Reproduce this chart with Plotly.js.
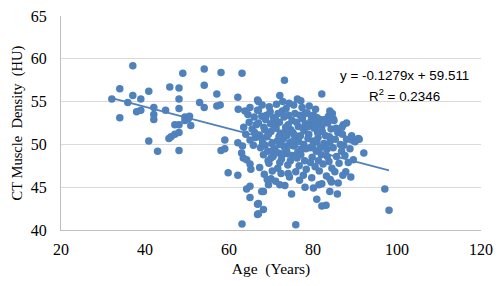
<!DOCTYPE html>
<html>
<head>
<meta charset="utf-8">
<script src="https://cdn.plot.ly/plotly-3.0.1.min.js"></script>
<style>html,body{margin:0;padding:0;background:#fff;}#chart{width:501px;height:286px;}</style>
</head>
<body>
<div id="chart"></div>
<script>
// Age (years)
const ages = [
32.1,34,37.1,34,35.9,37.1,39,38,39,40.9,42.1,42.1,42.1,40.9,43,44.9,45.9,48.1,49,48.1,48.1,47.1,48.1,47.1,46.2,45.7,48.1,48.1,49.5,50.9,49.5,50.3,50.6,
54.1,58.1,63.1,54.1,57.1,62.1,53,54.1,57.1,57.9,62.2,65,66.8,
59,58.1,59,62.1,59.8,62.1,65,63.4,63,64.2,65,65,66.8,66.8,63.1,
73.2,67,72.1,77.1,67,82.1,84,84.8,80.1,78.1,81.7,82.1,88,87.2,90.8,92.1,
97.1,98.1,75.9,74.9,80.9,82.1,83.1,85.8,84,78.1,72.1,68.2,67,68.2,67,87.1,82.1,84.4,
67.8,69.4,70,70,72.1,74.1,89.2,91,
63.5,64,64.5,65,63.2,64.8,65.5,66,65.8,64.2,66.3,65.2,66.5,63.8,66.8,
67,67.2,67.5,67.8,68,68.2,68.5,68.7,69,69.2,69.5,69.8,70,70.2,70.5,67.3,68.4,69.1,67.9,70.7,69.6,70.9,68.9,67.6,70.3,
71,71.2,71.5,71.8,72,72.2,72.5,72.7,73,73.2,73.5,73.8,74,74.2,74.5,71.3,72.8,73.6,71.6,72.4,73.9,74.7,71.1,73.3,74.4,72.1,73.7,
75,75.2,75.5,75.7,76,76.2,76.5,76.7,77,77.2,77.5,77.8,78,78.2,75.4,76.3,77.4,75.9,76.8,77.7,78.4,75.1,77.9,76.6,78.6,
79,79.3,79.5,79.8,80,80.3,80.5,80.8,81,81.2,81.5,81.8,82,82.2,79.1,80.6,79.7,81.4,82.4,80.1,82.6,79.4,81.7,
83,83.3,83.5,83.8,84,84.3,84.5,84.8,85,85.3,85.6,85.9,86.2,86.5,83.2,84.1,85.2,86,83.7,86.8,84.6,
87,87.3,87.6,88,88.4,88.8,89.2,89.6,90,87.8,89,86.9,
68.3,69.4,70.6,71.4,72.6,73.1,74.1,74.9,75.6,76.1,76.9,77.6,78.8,79.6,80.4,81.1,82.8,83.9,69.9,71.9,
73.4,75.3,76.4,77.1,78.3,79.9,81.3,82.9,70.4,72.9,74.6,68.6,71.7,74.3,78.9,80.9,83.4,85.5,66.1,69.3
];
// CT muscle density (HU)
const density = [
55.3,56.5,59.2,53.1,54.9,55.7,55.3,53.8,54.0,56.2,54.3,53.5,52.9,50.4,49.2,54.0,56.7,56.6,58.3,55.3,54.2,52.3,52.3,51.2,50.9,50.7,51.4,49.3,53.2,52.2,52.8,53.0,53.3,
58.8,58.4,58.3,56.9,55.9,55.5,54.9,54.3,54.5,54.6,54.1,54.3,55.2,
50.5,49.3,49.5,50.2,46.7,46.4,47.7,48.4,49.0,44.8,45.1,43.8,43.0,41.8,40.7,
57.5,55.0,55.7,55.1,54.0,55.9,53.9,53.0,53.4,53.6,52.9,52.1,52.5,52.3,50.7,49.0,
44.8,42.3,40.6,44.2,43.6,42.8,42.9,44.2,44.5,45.0,45.3,44.5,43.1,42.4,41.9,46.4,45.4,45.6,
44.5,45.3,46.0,48.4,47.9,46.6,50.5,50.6,
52.0,51.2,53.5,50.5,49.8,52.6,51.8,53.2,49.9,48.2,50.8,47.1,52.3,53.9,54.0,
52.5,51.1,49.6,53.3,50.2,48.8,51.7,52.9,50.9,49.2,47.8,53.8,51.5,50.1,48.6,47.3,46.5,45.9,54.6,52.2,54.4,49.5,53.4,50.8,46.9,
53.0,51.9,50.4,49.0,52.6,51.3,48.3,53.9,50.7,49.7,52.0,51.0,47.6,53.4,50.2,54.7,55.0,54.2,47.2,46.6,48.9,51.7,45.7,45.2,46.2,50.0,49.3,
52.8,51.4,49.8,53.6,50.6,48.4,52.1,47.5,51.0,49.4,53.0,50.0,48.1,52.4,54.6,55.3,54.3,46.8,45.8,46.4,47.1,48.7,51.6,50.3,53.7,
51.2,49.6,52.7,48.5,50.4,51.9,47.4,49.2,53.1,50.8,46.9,52.2,48.8,51.5,54.5,54.1,46.1,45.3,47.7,44.9,50.1,47.9,49.6,
51.0,49.4,52.5,48.0,50.2,51.8,47.2,49.6,52.8,50.6,48.6,51.4,47.8,50.0,46.3,45.9,46.8,45.5,53.3,49.2,53.6,
51.2,49.9,48.7,50.6,47.9,49.5,51.0,48.2,50.3,46.8,46.2,52.0,
52.0,51.2,53.1,52.4,50.8,53.2,52.3,49.9,51.1,52.6,53.4,51.9,50.7,53.3,52.6,51.4,52.9,50.9,52.4,50.9,
51.5,50.4,49.1,48.8,49.5,49.8,48.1,49.8,49.3,48.9,48.1,49.9,53.6,54.8,52.1,50.3,48.6,51.9,51.4,48.1
];
// Linear trendline (Excel fit)
const trendSlope = -0.1279;
const trendIntercept = 59.511;
const trendR2 = 0.2346;

const xMin = Math.min(...ages), xMax = Math.max(...ages);
const trendX = [xMin, xMax];
const trendY = trendX.map(v => trendSlope * v + trendIntercept);

const blue = '#4f81bd';
const data = [
  {x: ages, y: density, type: 'scatter', mode: 'markers',
   marker: {color: blue, size: 7.5, line: {width: 0}}, hoverinfo: 'x+y'},
  {x: trendX, y: trendY, type: 'scatter', mode: 'lines',
   line: {color: blue, width: 1.6}, hoverinfo: 'skip'}
];
const serif = 'Liberation Serif, Times New Roman, serif';
const layout = {
  width: 501, height: 286,
  margin: {l: 61, r: 20, t: 16, b: 56},
  paper_bgcolor: '#fff', plot_bgcolor: '#fff',
  showlegend: false,
  font: {family: serif, size: 15, color: '#000'},
  xaxis: {range: [20, 120], dtick: 20, tick0: 20, showgrid: false, zeroline: false,
          showline: true, linecolor: '#bfbfbf', linewidth: 1, ticks: '', ticklabelstandoff: 5,
          tickfont: {family: serif, size: 16, color: '#000'},
          title: {text: 'Age  (Years)', font: {family: serif, size: 15.5, color: '#000'}, standoff: 5}},
  yaxis: {range: [40, 65], dtick: 5, tick0: 40, showgrid: true, gridcolor: '#d9d9d9', gridwidth: 1,
          zeroline: false, showline: true, linecolor: '#bfbfbf', linewidth: 1, ticks: '', ticklabelstandoff: 10,
          tickfont: {family: serif, size: 16, color: '#000'},
          title: {text: 'CT Muscle  Density  (HU)', font: {family: serif, size: 14.5, color: '#000'}, standoff: 4}},
  annotations: [
    {xref: 'paper', yref: 'paper', x: 0.817, y: 0.724, xanchor: 'center', yanchor: 'middle', showarrow: false,
     text: 'y = ' + trendSlope + 'x + ' + trendIntercept,
     font: {family: 'Liberation Sans, Arial, sans-serif', size: 13.4, color: '#000'}},
    {xref: 'paper', yref: 'paper', x: 0.817, y: 0.628, xanchor: 'center', yanchor: 'middle', showarrow: false,
     text: 'R<sup>2</sup> = ' + trendR2,
     font: {family: 'Liberation Sans, Arial, sans-serif', size: 13.4, color: '#000'}}
  ]
};
Plotly.newPlot('chart', data, layout, {displayModeBar: false, staticPlot: true});
</script>
</body>
</html>
